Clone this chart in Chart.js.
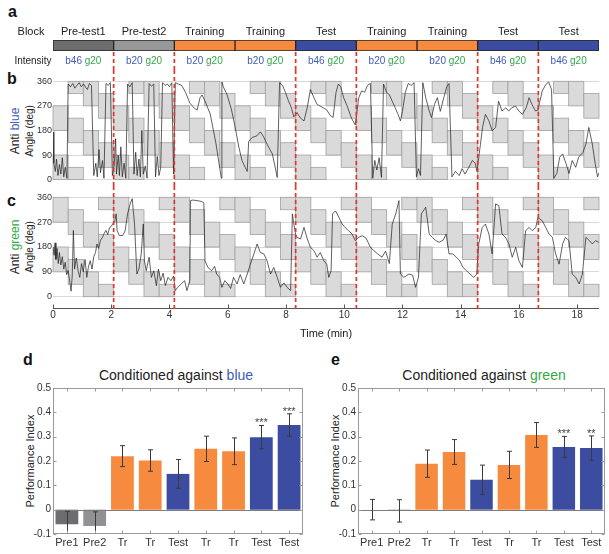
<!DOCTYPE html>
<html>
<head>
<meta charset="utf-8">
<script src="https://cdn.jsdelivr.net/npm/chart.js@4.4.1/dist/chart.umd.min.js"></script>
<style>
  body { margin:0; width:609px; height:554px; position:relative; background:#fff; overflow:hidden;
         font-family:"Liberation Sans", Arial, sans-serif; color:#222; }
  canvas { position:absolute; }
  .txt { position:absolute; white-space:nowrap; line-height:1; }
  .letter { font-weight:bold; font-size:16px; color:#111; }
  .rot { transform: translate(-50%,-50%) rotate(-90deg); }
  .hc { transform: translateX(-50%); }
  .blue { color:#3f5cb8; }
  .green { color:#33a84a; }
</style>
</head>
<body>
<div class="txt letter" style="left:8px;top:4px">a</div>
<div class="txt letter" style="left:7px;top:71px">b</div>
<div class="txt letter" style="left:7px;top:193px">c</div>
<div class="txt letter" style="left:23px;top:352px">d</div>
<div class="txt letter" style="left:331px;top:352px">e</div>

<div class="txt rot" style="left:15px;top:131px;font-size:12px">Anti <span class="blue">blue</span></div>
<div class="txt rot" style="left:29.5px;top:131px;font-size:10px">Angle (deg)</div>
<div class="txt rot" style="left:15px;top:247px;font-size:12px">Anti <span class="green">green</span></div>
<div class="txt rot" style="left:29.5px;top:247px;font-size:10px">Angle (deg)</div>

<div class="txt hc" style="left:176px;top:368px;font-size:14px">Conditioned against <span class="blue">blue</span></div>
<div class="txt hc" style="left:484px;top:368px;font-size:14px">Conditioned against <span class="green">green</span></div>
<div class="txt rot" style="left:30px;top:461px;font-size:11px">Performance Index</div>
<div class="txt rot" style="left:335px;top:461px;font-size:11px">Performance Index</div>

<canvas id="cA" width="609" height="70" style="left:0px;top:0px"></canvas>
<canvas id="cB" width="609" height="116" style="left:0px;top:70px"></canvas>
<canvas id="cC" width="609" height="160" style="left:0px;top:186px"></canvas>
<canvas id="cD" width="305" height="194" style="left:0px;top:360px"></canvas>
<canvas id="cE" width="304" height="194" style="left:305px;top:360px"></canvas>

<script>
// ---- data ----
const TOTAL_MIN = 18.75;
const blockNames = ['Pre-test1', 'Pre-test2', 'Training', 'Training', 'Test', 'Training', 'Training', 'Test', 'Test'];
const blockEdges = [0, 2.083, 4.167, 6.25, 8.333, 10.417, 12.5, 14.583, 16.667, 18.75];
const blueLevel = ['b46', 'b20', 'b20', 'b20', 'b46', 'b20', 'b20', 'b46', 'b46'];
const greenLevel = ['g20', 'g20', 'g20', 'g20', 'g20', 'g20', 'g20', 'g20', 'g20'];
const switchTimes = [2.083, 4.167, 8.333, 10.417, 14.583, 16.667];
const timeTicks = [0, 2, 4, 6, 8, 10, 12, 14, 16, 18];
const angleTicks = [0, 90, 180, 270, 360];

// lower edge (deg) of the shaded quadrant pair in each 31 s stripe
const stripeOffsetB = [0,135,90,45, 0,135,90,45, 0,135,90,45, 0,135,90,45, 0,135,90,45,
                       0,135,90,45, 0,135,90,45, 0,135,90,45, 0,135,90,45];
const stripeOffsetC = [90,45,0,135, 90,45,0,135, 90,45,0,135, 90,45,0,135, 90,45,0,135,
                       90,45,0,135, 90,45,0,135, 90,45,0,135, 90,45,0,135];

// fly heading [time (min), angle (deg)]
const traceB = [
  [0.00,175],[0.03,60],[0.08,30],[0.12,75],[0.17,15],[0.22,55],[0.27,20],[0.32,80],[0.37,10],[0.42,45],[0.48,5],
  [0.52,350],[0.60,340],[0.68,352],[0.75,335],[0.82,345],[0.90,355],[0.97,340],[1.05,350],[1.12,338],[1.18,330],
  [1.25,352],[1.32,345],[1.40,15],[1.47,60],[1.52,10],[1.58,110],[1.63,25],[1.70,70],[1.75,5],[1.82,352],
  [1.90,345],[1.97,355],[2.04,15],
  [2.10,50],[2.15,150],[2.18,20],[2.24,90],[2.28,15],[2.33,120],[2.38,10],[2.44,60],[2.50,5],[2.56,350],
  [2.64,340],[2.72,355],[2.78,20],[2.84,100],[2.89,15],[2.95,75],[3.00,10],[3.05,180],[3.10,20],[3.17,50],
  [3.23,5],[3.30,352],[3.38,342],[3.46,350],[3.52,10],[3.58,85],[3.64,15],[3.70,45],[3.76,355],[3.85,345],
  [3.93,350],[4.00,340],[4.08,355],[4.14,20],
  [4.20,355],[4.30,350],[4.42,345],[4.55,320],[4.70,280],[4.85,262],[4.95,255],[5.05,300],[5.12,310],[5.25,280],
  [5.40,240],[5.50,185],[5.60,130],[5.70,60],[5.78,5],[5.80,358],[5.85,340],[5.98,310],[6.12,260],[6.25,195],
  [6.38,120],[6.49,70],[6.60,45],[6.67,30],[6.72,140],[6.85,155],[7.00,160],[7.12,175],[7.24,155],[7.35,130],
  [7.45,110],[7.53,95],[7.62,50],[7.70,8],[7.78,355],[7.88,345],[7.98,320],[8.08,290],[8.18,265],[8.27,230],
  [8.38,245],[8.50,225],[8.62,215],[8.73,263],[8.84,330],[8.96,300],[9.07,275],[9.20,268],[9.30,262],[9.40,255],
  [9.52,235],[9.62,228],[9.72,320],[9.80,350],[9.88,340],[9.98,300],[10.10,270],[10.25,225],[10.38,200],
  [10.50,300],[10.60,325],[10.70,320],[10.80,345],[10.90,352],[10.98,5],[11.05,70],[11.12,35],[11.20,80],
  [11.28,8],[11.35,350],[11.45,320],[11.55,311],[11.65,287],[11.75,263],[11.85,239],[11.93,215],[12.00,250],
  [12.10,320],[12.20,352],[12.30,345],[12.40,355],[12.48,10],
  [12.55,40],[12.62,15],[12.70,355],[12.80,300],[12.92,251],[13.00,227],[13.10,275],[13.20,300],[13.30,250],
  [13.42,300],[13.52,340],[13.60,352],[13.70,10],[13.82,30],[13.95,15],[14.05,40],[14.15,20],[14.28,45],
  [14.40,70],[14.50,60],[14.56,30],
  [14.62,82],[14.68,130],[14.75,191],[14.85,239],[14.97,215],[15.08,179],[15.20,191],[15.30,287],[15.42,251],
  [15.55,263],[15.65,251],[15.75,263],[15.88,269],[16.00,251],[16.12,239],[16.25,263],[16.35,300],[16.45,275],
  [16.57,251],[16.65,255],
  [16.80,324],[16.92,348],[17.02,358],[17.12,330],[17.20,5],[17.30,22],[17.40,82],[17.50,94],[17.62,58],
  [17.72,22],[17.83,70],[17.95,45],[18.05,82],[18.20,100],[18.30,130],[18.40,191],[18.52,130],[18.62,58],
  [18.70,10],[18.75,25]
];
const traceC = [
  [0.00,180],[0.04,150],[0.07,195],[0.10,135],[0.14,175],[0.18,120],[0.22,160],[0.27,115],[0.32,145],[0.37,100],
  [0.42,125],[0.47,80],[0.52,95],[0.57,60],[0.62,20],[0.66,75],[0.70,240],[0.74,100],[0.80,140],[0.86,95],
  [0.92,70],[0.98,120],[1.04,90],[1.10,135],[1.16,70],[1.22,110],[1.28,130],[1.34,100],[1.40,145],[1.46,160],
  [1.51,191],[1.57,175],[1.63,205],[1.70,215],[1.76,230],[1.82,240],[1.88,225],[1.94,250],[2.00,255],[2.06,265],
  [2.12,275],[2.17,300],[2.20,240],[2.28,221],[2.40,222],[2.48,240],[2.56,300],[2.65,336],[2.72,355],[2.80,263],
  [2.88,82],[2.95,100],[3.03,155],[3.10,263],[3.14,130],[3.20,94],[3.30,143],[3.38,70],[3.46,94],[3.55,40],
  [3.62,100],[3.70,58],[3.78,85],[3.86,40],[3.95,70],[4.05,58],[4.14,75],
  [4.20,22],[4.28,34],[4.40,46],[4.52,58],[4.60,22],[4.70,60],[4.72,348],[4.80,350],[4.95,348],[5.10,345],
  [5.18,340],[5.22,130],[5.32,106],[5.45,94],[5.55,110],[5.62,82],[5.72,70],[5.80,34],[5.90,58],[6.00,46],
  [6.10,30],[6.20,70],
  [6.32,46],[6.43,80],[6.55,46],[6.67,82],[6.78,118],[6.90,155],[7.01,191],[7.12,160],[7.24,155],[7.35,130],
  [7.47,82],[7.58,106],[7.70,70],[7.81,34],[7.93,50],[8.04,34],[8.16,22],[8.22,300],[8.27,263],[8.33,227],
  [8.38,215],[8.50,209],[8.62,251],[8.73,210],[8.84,179],[8.96,167],[9.07,143],[9.18,160],[9.30,130],[9.40,118],
  [9.47,70],[9.55,94],[9.60,300],[9.70,311],[9.82,287],[9.93,263],[10.03,251],[10.15,239],[10.27,227],[10.38,203],
  [10.50,215],[10.62,221],[10.75,212],[10.90,179],[11.02,167],[11.15,155],[11.30,143],[11.42,165],[11.55,120],
  [11.65,263],[11.77,300],[11.88,348],[11.93,82],[12.05,70],[12.22,82],[12.35,78],[12.45,34],
  [12.55,70],[12.65,300],[12.80,324],[12.92,227],[13.02,215],[13.15,203],[13.26,197],[13.40,205],[13.50,227],
  [13.60,155],[13.73,155],[13.85,143],[13.97,130],[14.08,106],[14.20,94],[14.32,82],[14.45,70],[14.55,82],
  [14.62,191],[14.74,251],[14.85,263],[14.97,227],[15.08,155],[15.20,336],[15.31,330],[15.42,227],[15.54,215],
  [15.66,191],[15.77,143],[15.89,179],[16.00,130],[16.12,106],[16.23,239],[16.35,251],[16.46,239],[16.58,251],
  [16.65,287],
  [16.80,275],[16.92,251],[17.03,227],[17.15,215],[17.26,155],[17.38,118],[17.50,191],[17.60,215],[17.72,203],
  [17.83,82],[17.95,70],[18.07,46],[18.18,82],[18.30,215],[18.42,203],[18.52,191],[18.63,203],[18.74,197]
];

const barLabels = ['Pre1', 'Pre2', 'Tr', 'Tr', 'Test', 'Tr', 'Tr', 'Test', 'Test'];
const blueMeans = [-0.060, -0.067, 0.220, 0.202, 0.147, 0.250, 0.240, 0.298, 0.348];
const blueErr   = [0.053, 0.058, 0.043, 0.044, 0.059, 0.052, 0.055, 0.048, 0.046];
const blueStars = ['', '', '', '', '', '', '', '***', '***'];
const greenMeans = [0.000, -0.005, 0.189, 0.237, 0.123, 0.184, 0.307, 0.258, 0.253];
const greenErr   = [0.042, 0.046, 0.056, 0.051, 0.060, 0.056, 0.051, 0.043, 0.050];
const greenStars = ['', '', '', '', '', '', '', '***', '**'];
const piTicks = [-0.1, 0, 0.1, 0.2, 0.3, 0.4, 0.5];

// ---- styles ----
const FONT = '"Liberation Sans", Arial, sans-serif';
Chart.defaults.font.family = FONT;
Chart.defaults.color = '#333';
const BLOCK_COLOR = { 'Pre-test1': '#6d6d70', 'Pre-test2': '#98989b', 'Training': '#f68b3f', 'Test': '#3c4da1' };
const BAR_COLOR = { Pre1: '#6d6d70', Pre2: '#919194', Tr: '#f68b3f', Test: '#3c4da1' };
const BLUE_TXT = '#3f5cb8', GREEN_TXT = '#33a84a', RED = '#e5352b';

function switchLines(yFrom, yTo) {
  return {
    id: 'switchLines',
    afterDraw(chart) {
      const { ctx, scales: { x } } = chart;
      const y0 = yFrom(chart), y1 = yTo(chart);
      ctx.save();
      ctx.strokeStyle = RED;
      ctx.lineWidth = 1.7;
      ctx.setLineDash([4, 3]);
      switchTimes.forEach(t => {
        const px = x.getPixelForValue(t);
        ctx.beginPath(); ctx.moveTo(px, y0); ctx.lineTo(px, y1); ctx.stroke();
      });
      ctx.restore();
    }
  };
}

const blockLabels = {
  id: 'blockLabels',
  afterDraw(chart) {
    const { ctx, scales: { x } } = chart;
    ctx.save();
    ctx.textBaseline = 'alphabetic';
    ctx.fillStyle = '#222';
    ctx.textAlign = 'center';
    ctx.font = '11px ' + FONT;
    ctx.fillText('Block', 31, 35);
    ctx.font = '10px ' + FONT;
    ctx.fillText('Intensity', 33, 63.5);
    blockNames.forEach((name, i) => {
      const cx = x.getPixelForValue((blockEdges[i] + blockEdges[i + 1]) / 2);
      ctx.font = '11px ' + FONT;
      ctx.fillStyle = '#222';
      ctx.textAlign = 'center';
      ctx.fillText(name, cx, 35);
      ctx.font = '10px ' + FONT;
      const b = blueLevel[i], g = greenLevel[i];
      const wb = ctx.measureText(b + ' ').width, wg = ctx.measureText(g).width;
      const left = cx - (wb + wg) / 2;
      ctx.textAlign = 'left';
      ctx.fillStyle = BLUE_TXT; ctx.fillText(b, left, 63.5);
      ctx.fillStyle = GREEN_TXT; ctx.fillText(g, left + wb, 63.5);
    });
    ctx.restore();
  }
};

function quadrantBoxes(offsets) {
  return {
    id: 'quadrants',
    beforeDatasetsDraw(chart) {
      const { ctx, scales: { x, y } } = chart;
      const w = TOTAL_MIN / offsets.length;
      ctx.save();
      ctx.fillStyle = '#dadada';
      ctx.strokeStyle = '#a0a0a0';
      ctx.lineWidth = 0.8;
      offsets.forEach((off, k) => {
        const xl = x.getPixelForValue(k * w), xr = x.getPixelForValue((k + 1) * w);
        [off, off + 180].forEach(lo => {
          const hi = lo + 90;
          const parts = hi <= 360 ? [[lo, hi]] : [[lo, 360], [0, hi - 360]];
          parts.forEach(([a, b]) => {
            const yt = y.getPixelForValue(b), yb = y.getPixelForValue(a);
            ctx.fillRect(xl, yt, xr - xl, yb - yt);
            ctx.strokeRect(xl, yt, xr - xl, yb - yt);
          });
        });
      });
      ctx.restore();
    }
  };
}

const timeAxis = {
  id: 'timeAxis',
  afterDraw(chart) {
    const { ctx, chartArea: a, scales: { x } } = chart;
    const yA = Math.round(a.bottom + 11) + 0.5;
    ctx.save();
    ctx.strokeStyle = '#555';
    ctx.lineWidth = 1;
    ctx.beginPath(); ctx.moveTo(a.left, yA); ctx.lineTo(a.right, yA);
    timeTicks.forEach(t => {
      const px = Math.round(x.getPixelForValue(t)) + 0.5;
      ctx.moveTo(px, yA); ctx.lineTo(px, yA - 4);
    });
    ctx.stroke();
    ctx.restore();
  }
};

function angleChart(id, trace, offsets, bottomSpace, withAxis) {
  const plugins = [quadrantBoxes(offsets)];
  if (withAxis) plugins.push(timeAxis);
  plugins.push(switchLines(() => 0, c => withAxis ? c.chartArea.bottom + 15 : c.height));
  return new Chart(document.getElementById(id), {
    type: 'line',
    data: { datasets: [{
      data: trace.map(([t, a]) => ({ x: t, y: a })),
      borderColor: '#1e1e1e', borderWidth: 0.7, pointRadius: 0, tension: 0
    }] },
    options: {
      responsive: false, animation: false, devicePixelRatio: 1, events: [],
      layout: { padding: { left: 0, right: 10, top: 11.3, bottom: withAxis ? 0 : bottomSpace } },
      plugins: { legend: { display: false }, tooltip: { enabled: false } },
      scales: {
        x: withAxis ? {
          type: 'linear', min: 0, max: TOTAL_MIN,
          afterBuildTicks: s => { s.ticks = timeTicks.map(v => ({ value: v })); },
          ticks: { font: { size: 10 }, color: '#333', padding: 13, maxRotation: 0 },
          grid: { display: false, drawTicks: false }, border: { display: false },
          title: { display: true, text: 'Time (min)', font: { size: 11 }, color: '#222', padding: { top: 0, bottom: 5 } },
          afterFit: s => { s.height = bottomSpace; }
        } : { type: 'linear', min: 0, max: TOTAL_MIN, display: false },
        y: {
          min: 0, max: 360,
          afterBuildTicks: s => { s.ticks = angleTicks.map(v => ({ value: v })); },
          ticks: { font: { size: 9 }, color: '#333', padding: 1 },
          grid: { color: '#cfcfcf', lineWidth: 0.8, drawTicks: false }, border: { display: false },
          afterFit: s => { s.width = 53; }
        }
      }
    },
    plugins
  });
}

function barExtras(means, errs, stars) {
  return {
    id: 'barExtras',
    afterDatasetsDraw(chart) {
      const { ctx, chartArea: a, scales: { x, y } } = chart;
      ctx.save();
      const y0 = Math.round(y.getPixelForValue(0)) + 0.5;
      ctx.strokeStyle = '#7d7d7d'; ctx.lineWidth = 1;
      ctx.beginPath(); ctx.moveTo(a.left, y0); ctx.lineTo(a.right, y0); ctx.stroke();
      ctx.strokeStyle = '#3a3a3a';
      means.forEach((m, i) => {
        const cx = Math.round(x.getPixelForValue(i)) + 0.5;
        const hiV = m + errs[i], loV = m - errs[i];
        const yt = y.getPixelForValue(Math.min(hiV, 0.5)), yb = y.getPixelForValue(Math.max(loV, -0.1));
        ctx.beginPath();
        ctx.moveTo(cx, yt); ctx.lineTo(cx, yb);
        if (hiV <= 0.5) { ctx.moveTo(cx - 2.5, yt); ctx.lineTo(cx + 2.5, yt); }
        if (loV >= -0.1) { ctx.moveTo(cx - 2.5, yb); ctx.lineTo(cx + 2.5, yb); }
        ctx.stroke();
      });
      ctx.fillStyle = '#444';
      ctx.font = '11px ' + FONT;
      ctx.textAlign = 'center';
      ctx.textBaseline = 'alphabetic';
      stars.forEach((s, i) => {
        if (s) ctx.fillText(s, x.getPixelForValue(i), y.getPixelForValue(means[i] + errs[i]) + 1);
      });
      ctx.restore();
    },
    afterDraw(chart) {
      const { ctx, chartArea: a, scales: { x, y } } = chart;
      ctx.save();
      ctx.strokeStyle = '#9a9a9a'; ctx.lineWidth = 1;
      const L = Math.round(a.left) + 0.5, R = Math.round(a.right) - 0.5;
      const T = Math.round(a.top) + 0.5, B = Math.round(a.bottom) - 0.5;
      ctx.strokeRect(L, T, R - L, B - T);
      ctx.beginPath();
      barLabels.forEach((_, i) => {
        const px = Math.round(x.getPixelForValue(i)) + 0.5;
        ctx.moveTo(px, T); ctx.lineTo(px, T + 3);
        ctx.moveTo(px, B); ctx.lineTo(px, B - 3);
      });
      piTicks.forEach(v => {
        const py = Math.round(y.getPixelForValue(v)) + 0.5;
        ctx.moveTo(L, py); ctx.lineTo(L + 3, py);
        ctx.moveTo(R, py); ctx.lineTo(R - 3, py);
      });
      ctx.stroke();
      ctx.restore();
    }
  };
}

function barChart(id, means, errs, stars, rightPad) {
  return new Chart(document.getElementById(id), {
    type: 'bar',
    data: { labels: barLabels, datasets: [{
      data: means,
      backgroundColor: barLabels.map(l => BAR_COLOR[l]),
      borderWidth: 0, barPercentage: 0.82, categoryPercentage: 1
    }] },
    options: {
      responsive: false, animation: false, devicePixelRatio: 1, events: [],
      layout: { padding: { left: 0, right: rightPad, top: 28, bottom: 0 } },
      plugins: { legend: { display: false }, tooltip: { enabled: false } },
      scales: {
        x: {
          ticks: { font: { size: 11 }, color: '#333', padding: 2, autoSkip: false, maxRotation: 0 },
          grid: { display: false, drawTicks: false }, border: { display: false },
          afterFit: s => { s.height = 20; }
        },
        y: {
          min: -0.1, max: 0.5,
          afterBuildTicks: s => { s.ticks = piTicks.map(v => ({ value: v })); },
          ticks: { font: { size: 10 }, color: '#333', padding: 2,
                   callback: v => Math.abs(v) < 1e-9 ? '0' : String(Math.round(v * 10) / 10) },
          grid: { display: false, drawTicks: false }, border: { display: false },
          afterFit: s => { s.width = 53; }
        }
      }
    },
    plugins: [barExtras(means, errs, stars)]
  });
}

// ---- panel a: block schedule ----
new Chart(document.getElementById('cA'), {
  type: 'bar',
  data: { labels: [''], datasets: blockNames.map((name, i) => ({
    data: [[blockEdges[i], blockEdges[i + 1]]],
    backgroundColor: BLOCK_COLOR[name], borderColor: '#262626', borderWidth: 1, borderSkipped: false,
    grouped: false, barPercentage: 1, categoryPercentage: 1
  })) },
  options: {
    indexAxis: 'y', responsive: false, animation: false, devicePixelRatio: 1, events: [],
    layout: { padding: { left: 53, right: 10, top: 40, bottom: 19 } },
    plugins: { legend: { display: false }, tooltip: { enabled: false } },
    scales: { x: { type: 'linear', min: 0, max: TOTAL_MIN, display: false }, y: { display: false } }
  },
  plugins: [blockLabels, switchLines(c => c.chartArea.bottom + 1, c => c.height)]
});

// ---- panels b, c: heading traces ----
angleChart('cB', traceB, stripeOffsetB, 5.3, false);
angleChart('cC', traceC, stripeOffsetC, 49.3, true);

// ---- panels d, e: performance index ----
barChart('cD', blueMeans, blueErr, blueStars, 2);
barChart('cE', greenMeans, greenErr, greenStars, 4);
</script>
</body>
</html>
